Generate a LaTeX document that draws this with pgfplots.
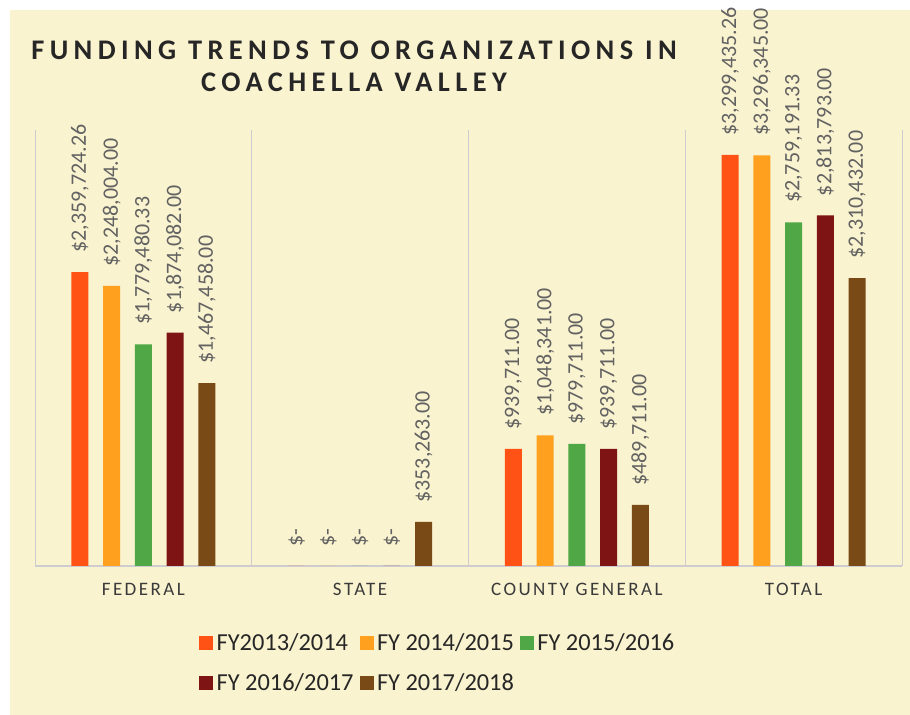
\documentclass[border=0pt]{standalone}
\usepackage{fontspec}
\setmainfont{Carlito}
\usepackage{pgfplots}
\pgfplotsset{compat=1.18}
\definecolor{bg}{HTML}{FAF3CF}
\definecolor{c1}{HTML}{FF5214}
\definecolor{c2}{HTML}{FFA11E}
\definecolor{c3}{HTML}{4FA845}
\definecolor{c4}{HTML}{7E1414}
\definecolor{c5}{HTML}{7A4A16}
\definecolor{lab}{HTML}{626262}
\definecolor{gridc}{HTML}{CFCCD0}
\definecolor{tk}{HTML}{3A3A3A}
\begin{document}
\begin{tikzpicture}[x=1pt,y=1pt]
\fill[white] (0,0) rectangle (455,357.5);
\path[use as bounding box] (0,0) rectangle (455,357.5);
\fill[bg] (5,0) rectangle (455,352.5);
\node[font=\bfseries\fontsize{14.2}{16.2}\selectfont\addfontfeature{LetterSpace=19}, align=center, text=black!85] at (177,324.4) {FUNDING TRENDS TO ORGANIZATIONS IN\\COACHELLA VALLEY};
\begin{axis}[
  at={(17.5pt,74.5pt)}, anchor=south west,
  scale only axis, width=433.5pt, height=218pt,
  xmin=-0.5, xmax=3.5, ymin=0, ymax=3.5e6,
  ybar=7.35pt, bar width=8.5pt,
  axis y line=none, ytick=\empty,
  axis x line*=bottom,
  x axis line style={-, draw=gridc, line width=0.6pt},
  xtick={0,1,2,3},
  xticklabels={FEDERAL,STATE,COUNTY GENERAL,TOTAL},
  minor xtick={-0.5,0.5,1.5,2.5,3.5},
  xminorgrids,
  minor grid style={draw=gridc, line width=0.5pt},
  major tick length=0pt, minor tick length=0pt,
  xticklabel style={font=\fontsize{9.5}{11}\selectfont\addfontfeature{LetterSpace=13}, text=tk, anchor=base, yshift=-15pt},
  nodes near coords,
  point meta=explicit symbolic,
  every node near coord/.append style={rotate=90, anchor=west, inner xsep=9.5pt, inner ysep=0pt, font=\fontsize{11}{13}\selectfont, text=lab},
  clip=false,
  legend columns=3,
  legend style={at={(0.1892,-0.1537)}, anchor=north west, draw=none, fill=none, inner sep=0pt,
    font=\fontsize{12.2}{14}\selectfont, text=black!85,
    nodes={inner xsep=1.6pt, inner ysep=0pt},
    /tikz/every even column/.append style={column sep=1.5pt},
    row sep=10pt},
  legend cell align=left,
  legend image code/.code={\fill[#1] (0pt,-3.5pt) rectangle (7pt,3.5pt);},
]
\addplot[fill=c1, draw=none] coordinates {(0,2359724.26) [\$2,359,724.26] (1,0) [\$-] (2,939711) [\$939,711.00] (3,3299435.26) [\$3,299,435.26]};
\addplot[fill=c2, draw=none] coordinates {(0,2248004) [\$2,248,004.00] (1,0) [\$-] (2,1048341) [\$1,048,341.00] (3,3296345) [\$3,296,345.00]};
\addplot[fill=c3, draw=none] coordinates {(0,1779480.33) [\$1,779,480.33] (1,0) [\$-] (2,979711) [\$979,711.00] (3,2759191.33) [\$2,759,191.33]};
\addplot[fill=c4, draw=none] coordinates {(0,1874082) [\$1,874,082.00] (1,0) [\$-] (2,939711) [\$939,711.00] (3,2813793) [\$2,813,793.00]};
\addplot[fill=c5, draw=none] coordinates {(0,1467458) [\$1,467,458.00] (1,353263) [\$353,263.00] (2,489711) [\$489,711.00] (3,2310432) [\$2,310,432.00]};
\legend{FY2013/2014, FY 2014/2015, FY 2015/2016, FY 2016/2017, FY 2017/2018}
\end{axis}
\end{tikzpicture}
\end{document}
